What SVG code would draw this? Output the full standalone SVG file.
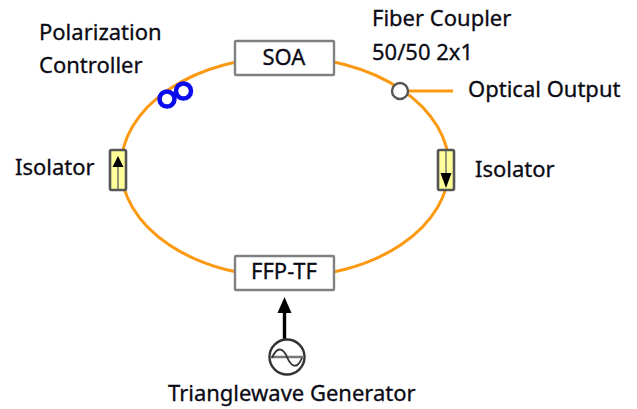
<svg xmlns="http://www.w3.org/2000/svg" width="637" height="409" viewBox="0 0 637 409">
<style>
text{font-family:"Noto Sans","Open Sans","DejaVu Sans",sans-serif;font-size:22px;fill:#0a0a14;stroke:#0a0a14;stroke-width:.3}
.box{fill:#fff;stroke:#808080;stroke-width:2.400}
.iso{fill:#ffff99;stroke:#555;stroke-width:2.600}
.fib{fill:none;stroke:#fb9a12;stroke-width:3}
.thin{fill:none;stroke:#666;stroke-width:1.400}
.pc{fill:#fff;stroke:#0a0aee;stroke-width:4.500}
</style>
<defs>
<marker id="ah" markerUnits="userSpaceOnUse" markerWidth="16" markerHeight="16" refX="8" refY="8" orient="auto"><path d="M0 1L16 8L0 15Z" fill="#000"/></marker>
</defs>
<rect width="637" height="409" fill="#fff"/>
<g id="connectors">
<ellipse class="fib" cx="285" cy="167" rx="164" ry="110"/>
<path class="fib" d="M408 91H453"/>
<path d="M284.500 341V305" fill="none" stroke="#000" stroke-width="3.400" marker-end="url(#ah)"/>
</g>
<g id="soa"><rect class="box" x="235" y="41" width="99" height="34" rx="1"/><text x="284" y="65" text-anchor="middle">SOA</text></g>
<g id="ffp-tf"><rect class="box" x="235" y="256" width="99" height="34" rx="1"/><text x="284" y="279" text-anchor="middle">FFP-TF</text></g>
<g id="pc"><circle class="pc" cx="167" cy="99" r="7.500"/><circle class="pc" cx="183.500" cy="91" r="7.500"/>
<text x="39" y="40">Polarization</text><text x="39" y="73">Controller</text></g>
<g id="coupler"><circle cx="400" cy="91" r="8" fill="#fff" stroke="#555" stroke-width="2.400"/>
<text x="372" y="26">Fiber Coupler</text><text x="372" y="60">50/50 2x1</text></g>
<g id="output"><text x="468" y="97">Optical Output</text></g>
<g id="isolator-left"><rect class="iso" x="110" y="150" width="16" height="40" rx="1.500"/><path class="thin" d="M118 165V190"/><path d="M118 156L123.500 167H112.500Z" fill="#000"/><text x="15" y="175">Isolator</text></g>
<g id="isolator-right"><rect class="iso" x="438" y="150" width="16" height="40" rx="1.500"/><path class="thin" d="M446 150V175"/><path d="M446 188L440.500 173H451.500Z" fill="#000"/><text x="475" y="177">Isolator</text></g>
<g id="generator"><circle cx="287" cy="357" r="17.500" fill="#fff" stroke="#333" stroke-width="2.400"/><path d="M270 357H304" stroke="#777" stroke-width="2.500" fill="none"/><path d="M272 358C278 344 284 350 287 357S296 372 302 358" fill="none" stroke="#333" stroke-width="1.800"/><text x="168" y="401">Trianglewave Generator</text></g>
</svg>
